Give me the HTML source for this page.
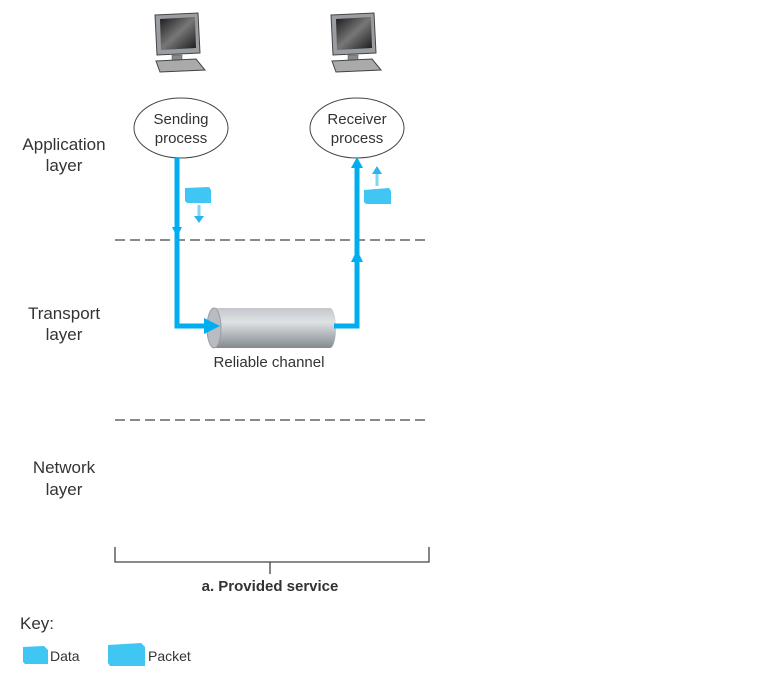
<!DOCTYPE html>
<html><head><style>
body{margin:0;background:#fff;width:784px;height:672px;overflow:hidden}
text{font-family:"Liberation Sans",sans-serif;fill:#333}
</style></head><body>
<svg width="784" height="672" xmlns="http://www.w3.org/2000/svg">
<defs>
<linearGradient id="pipe" x1="0" y1="0" x2="0" y2="1">
<stop offset="0" stop-color="#c3c7cb"/><stop offset="0.35" stop-color="#dfe2e5"/><stop offset="1" stop-color="#858a8f"/>
</linearGradient>
<linearGradient id="scr" x1="0" y1="0" x2="1" y2="1">
<stop offset="0" stop-color="#1a1a1a"/><stop offset="0.5" stop-color="#777"/><stop offset="1" stop-color="#1a1a1a"/>
</linearGradient>
<g id="pc">
<path d="M3,2 L46,0 L48,40 L5,42 Z" fill="#9a9ea2" stroke="#444" stroke-width="1"/>
<path d="M8,6 L43,4 L44,35 L9,37 Z" fill="url(#scr)"/>
<rect x="20" y="42" width="10" height="6" fill="#888" stroke="#555" stroke-width="0.5"/>
<path d="M4,48 L44,46 L53,57 L8,59 Z" fill="#aaa" stroke="#444" stroke-width="1"/>
</g>
</defs>
<use href="#pc" x="152" y="13"/>
<use href="#pc" x="328" y="13"/>
<ellipse cx="181" cy="128" rx="47" ry="30" fill="#fff" stroke="#444" stroke-width="1"/>
<text x="181" y="124" font-size="15" text-anchor="middle">Sending</text>
<text x="181" y="143" font-size="15" text-anchor="middle">process</text>
<ellipse cx="357" cy="128" rx="47" ry="30" fill="#fff" stroke="#444" stroke-width="1"/>
<text x="357" y="124" font-size="15" text-anchor="middle">Receiver</text>
<text x="357" y="143" font-size="15" text-anchor="middle">process</text>
<text x="64" y="150" font-size="17" text-anchor="middle">Application</text>
<text x="64" y="171" font-size="17" text-anchor="middle">layer</text>
<text x="64" y="319" font-size="17" text-anchor="middle">Transport</text>
<text x="64" y="340" font-size="17" text-anchor="middle">layer</text>
<text x="64" y="473" font-size="17" text-anchor="middle">Network</text>
<text x="64" y="495" font-size="17" text-anchor="middle">layer</text>
<line x1="115" y1="240" x2="425" y2="240" stroke="#444" stroke-width="1.3" stroke-dasharray="10,5"/>
<line x1="115" y1="420" x2="425" y2="420" stroke="#444" stroke-width="1.3" stroke-dasharray="10,5"/>
<rect x="214" y="308" width="116" height="40" fill="url(#pipe)"/>
<ellipse cx="330" cy="328" rx="6" ry="20" fill="url(#pipe)"/>
<ellipse cx="214" cy="328" rx="7" ry="20" fill="#b8bcc0" stroke="#9a9ea2"/>
<polyline points="177,158 177,326 210,326" fill="none" stroke="#00aeef" stroke-width="5"/>
<polygon points="204,318 220,326 204,334" fill="#00aeef"/>
<polygon points="172,227 182,227 177,237" fill="#00aeef"/>
<polyline points="334,326 357,326 357,165" fill="none" stroke="#00aeef" stroke-width="5"/>
<polygon points="351,168 363,168 357,157" fill="#00aeef"/>
<polygon points="351,262 363,262 357,250" fill="#00aeef"/>
<path d="M185,188 L209,187 L211,190 L211,203 L187,203 L185,201 Z" fill="#3fc6f2"/>
<line x1="199" y1="205" x2="199" y2="218" stroke="#7fd6f5" stroke-width="3"/>
<polygon points="194,216 204,216 199,223" fill="#29b6ec"/>
<path d="M364,190 L389,188 L391,191 L391,204 L366,204 L364,202 Z" fill="#3fc6f2"/>
<line x1="377" y1="186" x2="377" y2="172" stroke="#7fd6f5" stroke-width="3"/>
<polygon points="372,174 382,174 377,166" fill="#29b6ec"/>
<text x="269" y="367" font-size="15" text-anchor="middle">Reliable channel</text>
<polyline points="115,547 115,562 429,562 429,547" fill="none" stroke="#444" stroke-width="1.3"/>
<line x1="270" y1="562" x2="270" y2="574" stroke="#444" stroke-width="1.3"/>
<text x="270" y="591" font-size="15" font-weight="bold" text-anchor="middle" fill="#222">a. Provided service</text>
<text x="20" y="629" font-size="17">Key:</text>
<path d="M23,647 L44,646 L48,650 L48,664 L25,664 L23,662 Z" fill="#3fc6f2"/>
<text x="50" y="661" font-size="14">Data</text>
<path d="M108,645 L141,643 L145,647 L145,666 L110,666 L108,663 Z" fill="#3fc6f2"/>
<text x="148" y="661" font-size="14">Packet</text>
</svg>
</body></html>
